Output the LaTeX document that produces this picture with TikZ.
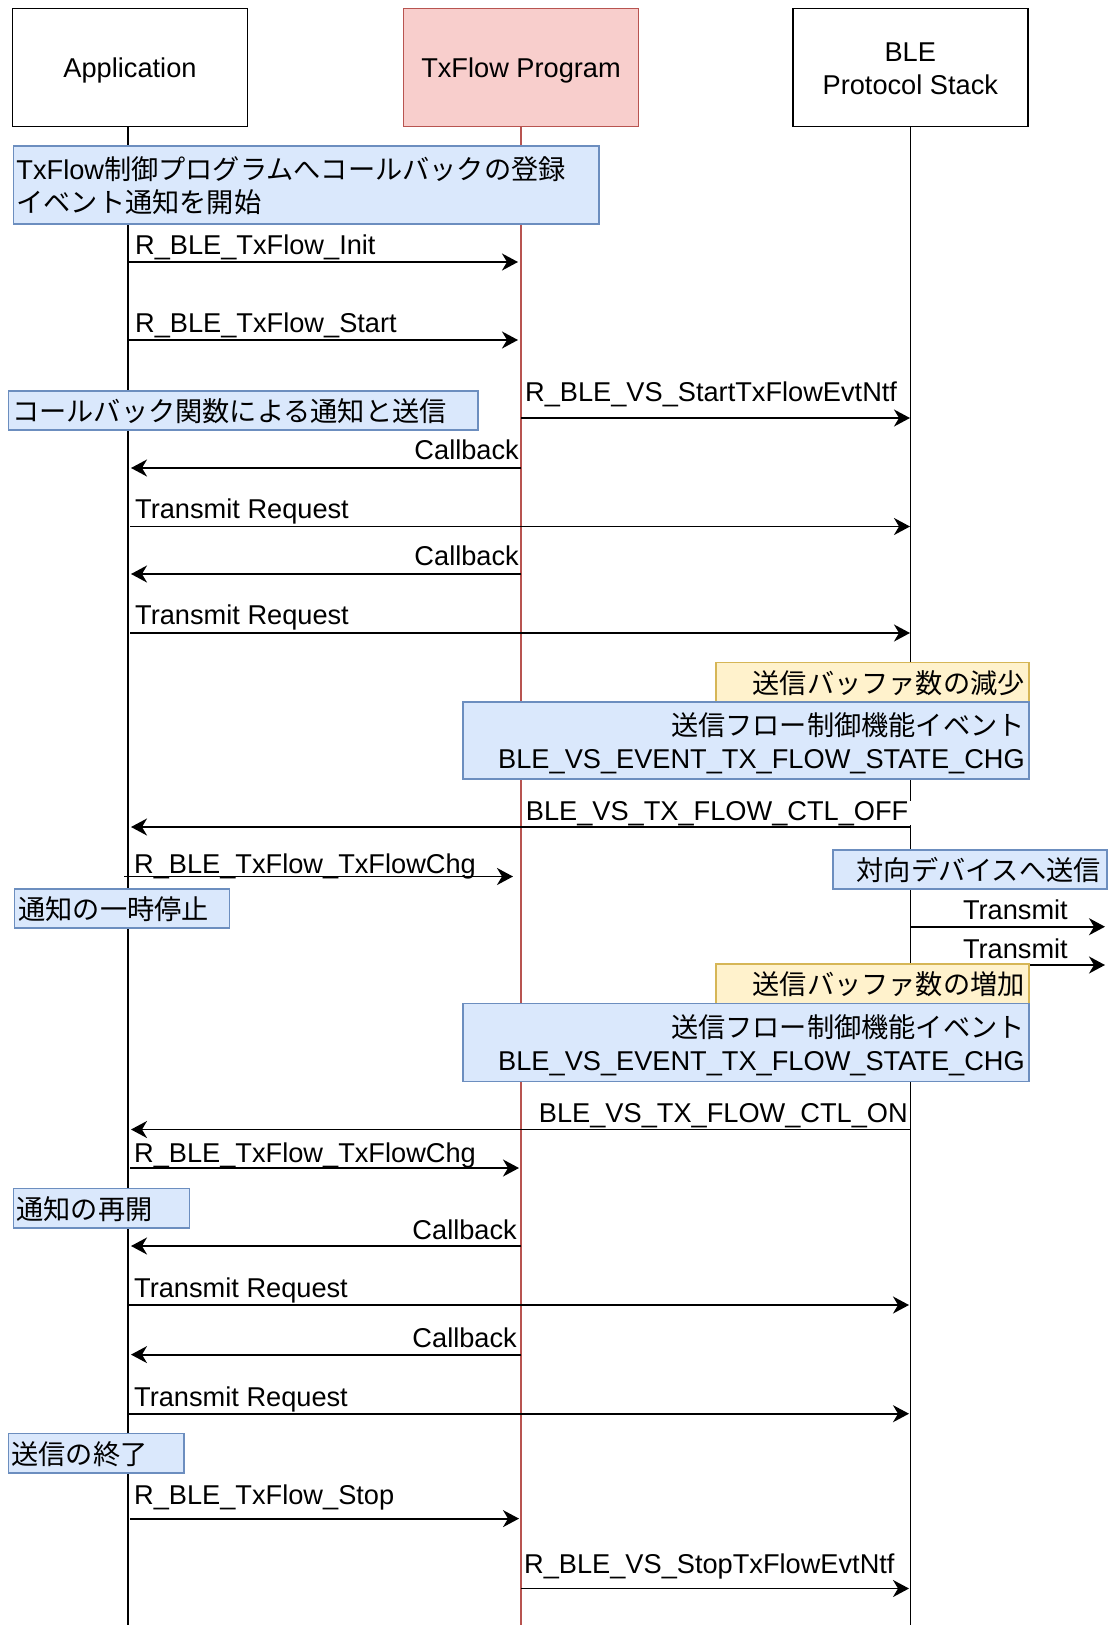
\documentclass[tikz,border=0pt]{standalone}
\usepackage{fontspec}
\setmainfont{Liberation Sans}
\newfontfamily\jpfont{Noto Sans CJK JP}
\newcommand\jtxt[1]{{\jpfont #1}}
\usetikzlibrary{arrows.meta}
\definecolor{bfill}{HTML}{DAE8FC}
\definecolor{bline}{HTML}{6C8EBF}
\definecolor{yfill}{HTML}{FFF2CC}
\definecolor{yline}{HTML}{D6B656}
\definecolor{rfill}{HTML}{F8CECC}
\definecolor{rline}{HTML}{B85450}
\begin{document}
\begin{tikzpicture}[x=1pt,y=-1pt,
  every node/.style={font=\fontsize{27.2}{33}\selectfont},
  hdr/.style={draw=black, line width=1.6pt, fill=white, minimum width=235, minimum height=118, align=center, inner sep=0pt},
  hdrone/.style={hdr, text height=19.5pt, text depth=0pt},
  life/.style={line width=1.3pt},
  msg/.style={line width=1.9pt, -{Stealth[length=16pt,width=17pt,inset=5pt]}},
  lbl/.style={inner sep=0pt},
  bnote/.style={draw=bline, fill=bfill, line width=1.5pt, anchor=north west, inner ysep=0pt},
  ynote/.style={draw=yline, fill=yfill, line width=1.5pt, anchor=north west, inner ysep=0pt},
  oneline/.style={text height=22.5pt, text depth=0pt},
  twoline/.style={text height=22.5pt, text depth=33pt},
]
\useasboundingbox (0,0) rectangle (1109,1625);

% participants
\node[hdrone] (app) at (130,67.3) {Application};
\node[hdrone, draw=rline, fill=rfill] (txp) at (521,67.3) {TxFlow Program};
\node[hdr] (ble) at (910.3,67.3) {\raisebox{-3.6pt}[\height][\depth]{\begin{tabular}{@{}c@{}}BLE\\Protocol Stack\end{tabular}}};

% lifelines
\coordinate (appE) at (128,1625);
\coordinate (txpE) at (521,1625);
\coordinate (bleE) at (910.5,1625);
\draw[life] (app.south -| appE) -- (appE);
\draw[life, draw=rline] (txp.south) -- (txpE);
\draw[life] (ble.south -| bleE) -- (bleE);

% messages
\coordinate (m1s) at (128,262); \coordinate (m1e) at (518,262);
\draw[msg] (m1s) -- (m1e);
\node[lbl, anchor=base west] (m1l) at (135,254) {R\_BLE\_TxFlow\_Init};

\coordinate (m2s) at (128,340); \coordinate (m2e) at (518,340);
\draw[msg] (m2s) -- (m2e);
\node[lbl, anchor=base west] (m2l) at (135,332) {R\_BLE\_TxFlow\_Start};

\coordinate (m3s) at (521,418); \coordinate (m3e) at (910,418);
\draw[msg] (m3s) -- (m3e);
\node[lbl, anchor=base west] (m3l) at (525,401) {R\_BLE\_VS\_StartTxFlowEvtNtf};

\coordinate (m4s) at (521,468); \coordinate (m4e) at (131,468);
\draw[msg] (m4s) -- (m4e);
\node[lbl, anchor=base east] (m4l) at (519,459.5) {Callback};

\coordinate (m5s) at (130,526.5); \coordinate (m5e) at (910,526.5);
\draw[msg] (m5s) -- (m5e);
\node[lbl, anchor=base west] (m5l) at (135,518) {Transmit Request};

\coordinate (m6s) at (521,574); \coordinate (m6e) at (131,574);
\draw[msg] (m6s) -- (m6e);
\node[lbl, anchor=base east] (m6l) at (519,565.5) {Callback};

\coordinate (m7s) at (130,633); \coordinate (m7e) at (910,633);
\draw[msg] (m7s) -- (m7e);
\node[lbl, anchor=base west] (m7l) at (135,624.5) {Transmit Request};

\coordinate (m8s) at (910.5,827); \coordinate (m8e) at (131,827);
\draw[msg] (m8s) -- (m8e);
\node[lbl, fill=white, inner xsep=2.5pt, anchor=base east] (m8l) at (911,820) {BLE\_VS\_TX\_FLOW\_CTL\_OFF};

\coordinate (m9s) at (124,876.5); \coordinate (m9e) at (513,876.5);
\draw[msg] (m9s) -- (m9e);
\node[lbl, anchor=base west] (m9l) at (134,873) {R\_BLE\_TxFlow\_TxFlowChg};

\coordinate (m10s) at (910.5,926.7); \coordinate (m10e) at (1105,926.7);
\draw[msg] (m10s) -- (m10e);
\node[lbl, anchor=base east] (m10l) at (1068,919.7) {Transmit};

\coordinate (m11s) at (910.5,965); \coordinate (m11e) at (1105,965);
\draw[msg] (m11s) -- (m11e);
\node[lbl, anchor=base east] (m11l) at (1068,958) {Transmit};

\coordinate (m12s) at (910.5,1129.5); \coordinate (m12e) at (131,1129.5);
\draw[msg] (m12s) -- (m12e);
\node[lbl, anchor=base east] (m12l) at (908,1122) {BLE\_VS\_TX\_FLOW\_CTL\_ON};

\coordinate (m13s) at (130,1168); \coordinate (m13e) at (519,1168);
\draw[msg] (m13s) -- (m13e);
\node[lbl, anchor=base west] (m13l) at (134,1162) {R\_BLE\_TxFlow\_TxFlowChg};

\coordinate (m14s) at (521,1246); \coordinate (m14e) at (131,1246);
\draw[msg] (m14s) -- (m14e);
\node[lbl, anchor=base east] (m14l) at (517,1239) {Callback};

\coordinate (m15s) at (128,1305); \coordinate (m15e) at (909,1305);
\draw[msg] (m15s) -- (m15e);
\node[lbl, anchor=base west] (m15l) at (134,1297) {Transmit Request};

\coordinate (m16s) at (521,1354.6); \coordinate (m16e) at (131,1354.6);
\draw[msg] (m16s) -- (m16e);
\node[lbl, anchor=base east] (m16l) at (517,1347.6) {Callback};

\coordinate (m17s) at (128,1413.7); \coordinate (m17e) at (909,1413.7);
\draw[msg] (m17s) -- (m17e);
\node[lbl, anchor=base west] (m17l) at (134,1406.7) {Transmit Request};

\coordinate (m18s) at (130,1518.6); \coordinate (m18e) at (519,1518.6);
\draw[msg] (m18s) -- (m18e);
\node[lbl, anchor=base west] (m18l) at (134,1504) {R\_BLE\_TxFlow\_Stop};

\coordinate (m19s) at (521,1588.5); \coordinate (m19e) at (909,1588.5);
\draw[msg] (m19s) -- (m19e);
\node[lbl, anchor=base west] (m19l) at (524,1573.5) {R\_BLE\_VS\_StopTxFlowEvtNtf};

% notes
\node[bnote, twoline, text width=579.3pt, inner xsep=3pt, minimum height=78, align=left] (n1) at (12.7,145)
  {TxFlow\jtxt{制御プログラムへコールバックの登録}\\\jtxt{イベント通知を開始}};
\node[bnote, oneline, text width=461.4pt, inner xsep=4pt, minimum height=39, align=left] (n2) at (7.6,390)
  {\jtxt{コールバック関数による通知と送信}};
\node[ynote, oneline, text width=304.6pt, inner xsep=4pt, minimum height=39.3, align=right] (y1) at (715.4,661.7)
  {\jtxt{送信バッファ数の減少}};
\node[bnote, twoline, text width=557.6pt, inner xsep=4pt, minimum height=77.3, align=right] (b1) at (462.4,701)
  {\jtxt{送信フロー制御機能イベント}\\BLE\_VS\_EVENT\_TX\_FLOW\_STATE\_CHG};
\node[bnote, oneline, text width=262pt, inner xsep=6pt, minimum height=39, align=right] (d1) at (832,849)
  {\jtxt{対向デバイスへ送信}};
\node[bnote, oneline, text width=206.8pt, inner xsep=4pt, minimum height=39, align=left] (n3) at (13.8,888)
  {\jtxt{通知の一時停止}};
\node[ynote, oneline, text width=304.6pt, inner xsep=4pt, minimum height=39.7, align=right] (y2) at (715.4,963)
  {\jtxt{送信バッファ数の増加}};
\node[bnote, twoline, text width=558pt, inner xsep=4pt, minimum height=78, align=right] (b2) at (462,1002.7)
  {\jtxt{送信フロー制御機能イベント}\\BLE\_VS\_EVENT\_TX\_FLOW\_STATE\_CHG};
\node[bnote, oneline, text width=170.1pt, inner xsep=3pt, minimum height=39.7, align=left] (n4) at (12.7,1187.7)
  {\jtxt{通知の再開}};
\node[bnote, oneline, text width=169.2pt, inner xsep=3pt, minimum height=39.5, align=left] (n5) at (7.8,1432.5)
  {\jtxt{送信の終了}};
\end{tikzpicture}
\end{document}
